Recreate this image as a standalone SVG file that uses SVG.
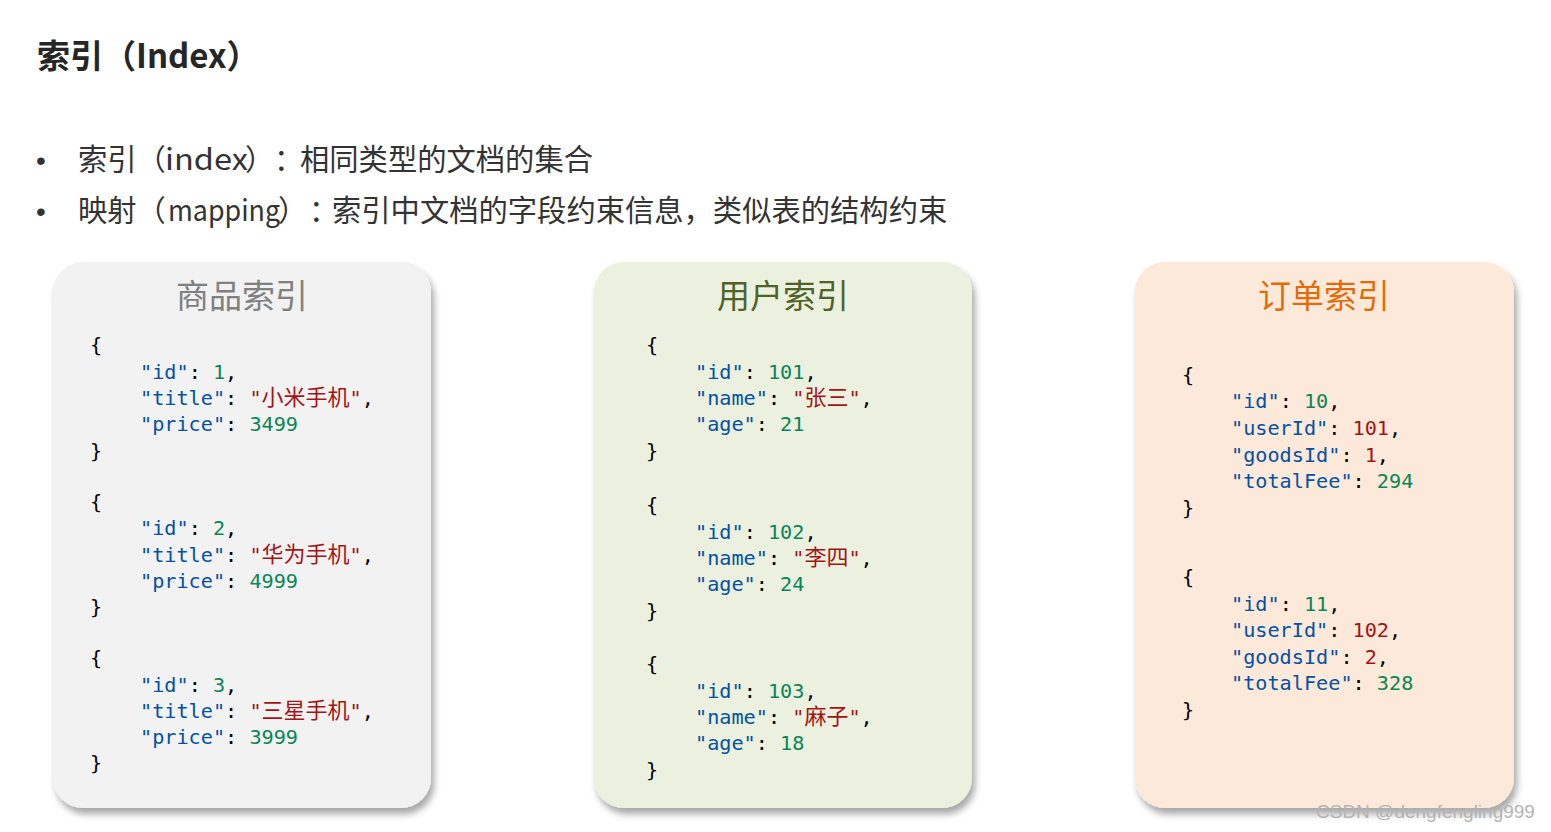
<svg xmlns="http://www.w3.org/2000/svg" width="1551" height="832" viewBox="0 0 1551 832">
<defs>
<filter id="sh" x="-10%" y="-10%" width="125%" height="125%">
<feDropShadow dx="3" dy="6" stdDeviation="3.5" flood-color="#000" flood-opacity="0.35"/>
</filter>
</defs>
<style>
text{text-spacing-trim:space-all}
.h{font-family:"Noto Sans CJK SC","Noto Sans",sans-serif;font-weight:bold;font-size:33px;fill:#262626}
.b{font-family:"Noto Sans CJK SC","Noto Sans",sans-serif;font-size:29.3px;fill:#333}
.bl{font-family:"Liberation Sans",sans-serif;font-size:28px;fill:#333}
.ct{font-family:"Noto Sans CJK SC",sans-serif;font-size:33px;text-anchor:middle}
.c{font-family:"DejaVu Sans Mono","Noto Sans CJK SC",monospace;font-size:20.2px;fill:#000;white-space:pre}
.k{fill:#0451a5}.n{fill:#098658}.s{fill:#a31515}
.cj{font-family:"Noto Sans CJK SC",sans-serif;font-size:22px}
.wm{font-family:"Liberation Sans",sans-serif;font-size:19px;fill:#b4b4b4}
</style>
<rect width="1551" height="832" fill="#fff"/>
<text class="h" x="37" y="68">索引（Index）</text>
<text class="bl" x="36" y="170">•</text>
<text class="b" y="170"><tspan x="78">索引（</tspan><tspan x="165" textLength="83" lengthAdjust="spacingAndGlyphs">index</tspan><tspan x="245">）</tspan><tspan x="274">：</tspan><tspan x="300">相同类型的文档的集合</tspan></text>
<text class="bl" x="36" y="221">•</text>
<text class="b" y="221"><tspan x="78">映射（</tspan><tspan x="168" textLength="112" lengthAdjust="spacingAndGlyphs">mapping</tspan><tspan x="278">）</tspan><tspan x="309">：</tspan><tspan x="332">索引中文档的字段约束信息，类似表的结构约束</tspan></text>

<g id="goods">
<rect x="53" y="262" width="378" height="546" rx="30" fill="#f2f2f2" filter="url(#sh)"/>
<text class="ct" x="242" y="308" fill="#808080">商品索引</text>
<text class="c" x="90" y="352">{</text>
<text class="c" x="140" y="379"><tspan class="k">"id"</tspan>: <tspan class="n">1</tspan>,</text>
<text class="c" x="140" y="405"><tspan class="k">"title"</tspan>: <tspan class="s">"<tspan class="cj">小米手机</tspan>"</tspan>,</text>
<text class="c" x="140" y="431"><tspan class="k">"price"</tspan>: <tspan class="n">3499</tspan></text>
<text class="c" x="90" y="458">}</text>
<text class="c" x="90" y="509">{</text>
<text class="c" x="140" y="535"><tspan class="k">"id"</tspan>: <tspan class="n">2</tspan>,</text>
<text class="c" x="140" y="562"><tspan class="k">"title"</tspan>: <tspan class="s">"<tspan class="cj">华为手机</tspan>"</tspan>,</text>
<text class="c" x="140" y="588"><tspan class="k">"price"</tspan>: <tspan class="n">4999</tspan></text>
<text class="c" x="90" y="614">}</text>
<text class="c" x="90" y="665">{</text>
<text class="c" x="140" y="692"><tspan class="k">"id"</tspan>: <tspan class="n">3</tspan>,</text>
<text class="c" x="140" y="718"><tspan class="k">"title"</tspan>: <tspan class="s">"<tspan class="cj">三星手机</tspan>"</tspan>,</text>
<text class="c" x="140" y="744"><tspan class="k">"price"</tspan>: <tspan class="n">3999</tspan></text>
<text class="c" x="90" y="770">}</text>
</g>

<g id="users">
<rect x="594" y="262" width="378" height="546" rx="30" fill="#ebf0df" filter="url(#sh)"/>
<text class="ct" x="783" y="308" fill="#4f6228">用户索引</text>
<text class="c" x="646" y="352">{</text>
<text class="c" x="695" y="379"><tspan class="k">"id"</tspan>: <tspan class="n">101</tspan>,</text>
<text class="c" x="695" y="405"><tspan class="k">"name"</tspan>: <tspan class="s">"<tspan class="cj">张三</tspan>"</tspan>,</text>
<text class="c" x="695" y="431"><tspan class="k">"age"</tspan>: <tspan class="n">21</tspan></text>
<text class="c" x="646" y="458">}</text>
<text class="c" x="646" y="512">{</text>
<text class="c" x="695" y="539"><tspan class="k">"id"</tspan>: <tspan class="n">102</tspan>,</text>
<text class="c" x="695" y="565"><tspan class="k">"name"</tspan>: <tspan class="s">"<tspan class="cj">李四</tspan>"</tspan>,</text>
<text class="c" x="695" y="591"><tspan class="k">"age"</tspan>: <tspan class="n">24</tspan></text>
<text class="c" x="646" y="618">}</text>
<text class="c" x="646" y="671">{</text>
<text class="c" x="695" y="698"><tspan class="k">"id"</tspan>: <tspan class="n">103</tspan>,</text>
<text class="c" x="695" y="724"><tspan class="k">"name"</tspan>: <tspan class="s">"<tspan class="cj">麻子</tspan>"</tspan>,</text>
<text class="c" x="695" y="750"><tspan class="k">"age"</tspan>: <tspan class="n">18</tspan></text>
<text class="c" x="646" y="777">}</text>
</g>

<g id="orders">
<rect x="1135" y="262" width="379" height="546" rx="30" fill="#fde9d9" filter="url(#sh)"/>
<text class="ct" x="1324" y="308" fill="#e36c09">订单索引</text>
<text class="c" x="1182" y="382">{</text>
<text class="c" x="1231" y="408"><tspan class="k">"id"</tspan>: <tspan class="n">10</tspan>,</text>
<text class="c" x="1231" y="435"><tspan class="k">"userId"</tspan>: <tspan class="s">101</tspan>,</text>
<text class="c" x="1231" y="462"><tspan class="k">"goodsId"</tspan>: <tspan class="s">1</tspan>,</text>
<text class="c" x="1231" y="488"><tspan class="k">"totalFee"</tspan>: <tspan class="n">294</tspan></text>
<text class="c" x="1182" y="515">}</text>
<text class="c" x="1182" y="584">{</text>
<text class="c" x="1231" y="611"><tspan class="k">"id"</tspan>: <tspan class="n">11</tspan>,</text>
<text class="c" x="1231" y="637"><tspan class="k">"userId"</tspan>: <tspan class="s">102</tspan>,</text>
<text class="c" x="1231" y="664"><tspan class="k">"goodsId"</tspan>: <tspan class="s">2</tspan>,</text>
<text class="c" x="1231" y="690"><tspan class="k">"totalFee"</tspan>: <tspan class="n">328</tspan></text>
<text class="c" x="1182" y="717">}</text>
</g>

<text class="wm" x="1316" y="818">CSDN @dengfengling999</text>
</svg>
